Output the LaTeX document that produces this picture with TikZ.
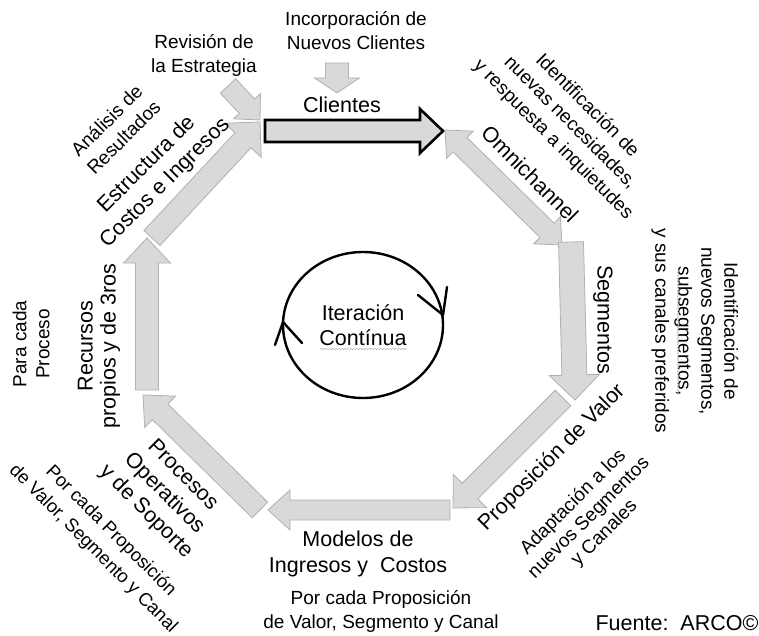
\documentclass[tikz,border=0pt]{standalone}
\usepackage{fontspec}
\setmainfont{Liberation Sans}
\usetikzlibrary{calc,shapes.geometric,decorations.pathmorphing}

\definecolor{arrowfill}{HTML}{D9D9D9}
\definecolor{arrowline}{HTML}{B0B0B0}

\tikzset{
    grayarrow/.style={fill=arrowfill, draw=arrowline, line width=0.8pt, line join=miter},
    mainarrow/.style={fill=arrowfill, draw=black, line width=2.6pt, line join=miter},
    bigtxt/.style={font=\fontsize{21.5}{26}\selectfont, align=center, inner sep=0pt},
    smalltxt/.style={font=\fontsize{19}{24}\selectfont, align=center, inner sep=0pt},
    iterline/.style={line width=2.4pt, line cap=round, line join=round},
    spellmark/.style={draw=gray!55, line width=0.6pt,
        decorate, decoration={snake, amplitude=0.7pt, segment length=3pt}},
}

% block arrow: [style]{tail}{tip}{shaft half width}{head half width}{head length}
\newcommand{\blockarrow}[6][grayarrow]{%
    \coordinate (ba-t) at #2;
    \coordinate (ba-p) at #3;
    \coordinate (ba-b) at ($(ba-p)!#6!(ba-t)$);
    \draw[#1] ($(ba-t)!#4!90:(ba-p)$) -- ($(ba-b)!#4!-90:(ba-t)$)
        -- ($(ba-b)!#5!-90:(ba-t)$) -- (ba-p) -- ($(ba-b)!#5!90:(ba-t)$)
        -- ($(ba-b)!#4!90:(ba-t)$) -- ($(ba-t)!#4!-90:(ba-p)$) -- cycle;
}

% block arrow with a head at both ends
\newcommand{\dblarrow}[5]{%
    \coordinate (da-a) at #1;
    \coordinate (da-b) at #2;
    \coordinate (da-1) at ($(da-a)!#5!(da-b)$);
    \coordinate (da-2) at ($(da-b)!#5!(da-a)$);
    \draw[grayarrow] (da-a) -- ($(da-1)!#4!90:(da-b)$) -- ($(da-1)!#3!90:(da-b)$)
        -- ($(da-2)!#3!-90:(da-a)$) -- ($(da-2)!#4!-90:(da-a)$) -- (da-b)
        -- ($(da-2)!#4!90:(da-a)$) -- ($(da-2)!#3!90:(da-a)$)
        -- ($(da-1)!#3!-90:(da-b)$) -- ($(da-1)!#4!-90:(da-b)$) -- cycle;
}

\begin{document}
\begin{tikzpicture}[x=1pt, y=-1pt]
    \useasboundingbox (0,0) rectangle (759,636);

    % the cycle
    \blockarrow[mainarrow]{(265,131)}{(443,131)}{11pt}{22pt}{23pt}
    \dblarrow{(445,130)}{(562,245)}{10pt}{19pt}{21pt}
    \blockarrow{(571,242)}{(575,400)}{12.5pt}{25pt}{25pt}
    \blockarrow{(563,398)}{(453,508)}{11pt}{23.5pt}{24pt}
    \blockarrow{(450,510)}{(268,510)}{10pt}{20pt}{22pt}
    \blockarrow{(260,510)}{(143,395)}{11pt}{22pt}{24pt}
    \blockarrow{(147,390)}{(147,238)}{11.5pt}{23.5pt}{25pt}
    \blockarrow{(152,238)}{(260,122)}{11pt}{25pt}{25pt}

    % inputs
    \blockarrow{(228,86)}{(260,120)}{10.5pt}{18.5pt}{19pt}
    \blockarrow{(337,63)}{(337,93)}{11.5pt}{22.5pt}{15pt}

    % labels of the steps
    \node[bigtxt] (clientes) at (342,105) {Clientes};
    \node[bigtxt, rotate=-45] (omni) at (530,174) {Omnichannel};
    \node[bigtxt, rotate=-90] (segmentos) at (603,320) {Segmentos};
    \node[bigtxt, rotate=45] (propuesta) at (552,458) {Proposición de Valor};
    \node[bigtxt] (modelos) at (358,554) {Modelos de\\Ingresos y\ \ Costos};
    \node[bigtxt, rotate=-45] (procesos) at (164,494) {Procesos\\Operativos\\y de Soporte};
    \node[bigtxt, rotate=90, font=\fontsize{21.5}{23}\selectfont] (recursos) at (99,346)
        {Recursos\\propios y de 3ros};
    \node[bigtxt, rotate=45] (estructura) at (156,174) {Estructura de\\Costos e Ingresos};

    % notes
    \node[smalltxt] (incorp) at (356,31) {Incorporación de\\Nuevos Clientes};
    \node[smalltxt] (revision) at (204,55) {Revisión de\\la Estrategia};
    \node[smalltxt, rotate=45] (analisis) at (115,129) {Análisis de\\Resultados};
    \node[smalltxt, rotate=-45] (necesidades) at (570,123)
        {Identificación de\\nuevas necesidades,\\y respuesta a inquietudes};
    \node[smalltxt, rotate=-90, font=\fontsize{19}{23}\selectfont] (nuevosseg) at (695,331)
        {Identificación de\\nuevos Segmentos,\\subsegmentos,\\y sus canales preferidos};
    \node[smalltxt, rotate=45, font=\fontsize{19}{22}\selectfont] (adaptacion) at (589,518)
        {Adaptación a los\\nuevos Segmentos\\y Canales};
    \node[smalltxt] (porcada) at (381,611) {Por cada Proposición\\de Valor, Segmento y Canal};
    \node[smalltxt, rotate=-45, font=\fontsize{18.5}{25}\selectfont] (porcadaizq) at (102,540)
        {Por cada Proposición\\de Valor, Segmento y Canal};
    \node[smalltxt, rotate=90, font=\fontsize{19}{23}\selectfont] (paracada) at (31,344)
        {Para cada\\Proceso};
    \node[bigtxt] (fuente) at (677,623) {Fuente:\ \ ARCO©};

    % iteration
    \node[ellipse, draw, line width=2.4pt, minimum width=160pt, minimum height=146pt,
        inner sep=0pt, font=\fontsize{21.5}{25}\selectfont, align=center]
        (iter) at (363,325) {Iteración\\Contínua};
    \draw[iterline] (418,295) -- (443,315) -- (447,287);
    \draw[iterline] (275,345) -- (283,322) -- (302,343);

    % spell check marks
    \draw[spellmark] (320,349) -- (407,349);
    \draw[spellmark] (678,270) -- (678,393);
\end{tikzpicture}
\end{document}
